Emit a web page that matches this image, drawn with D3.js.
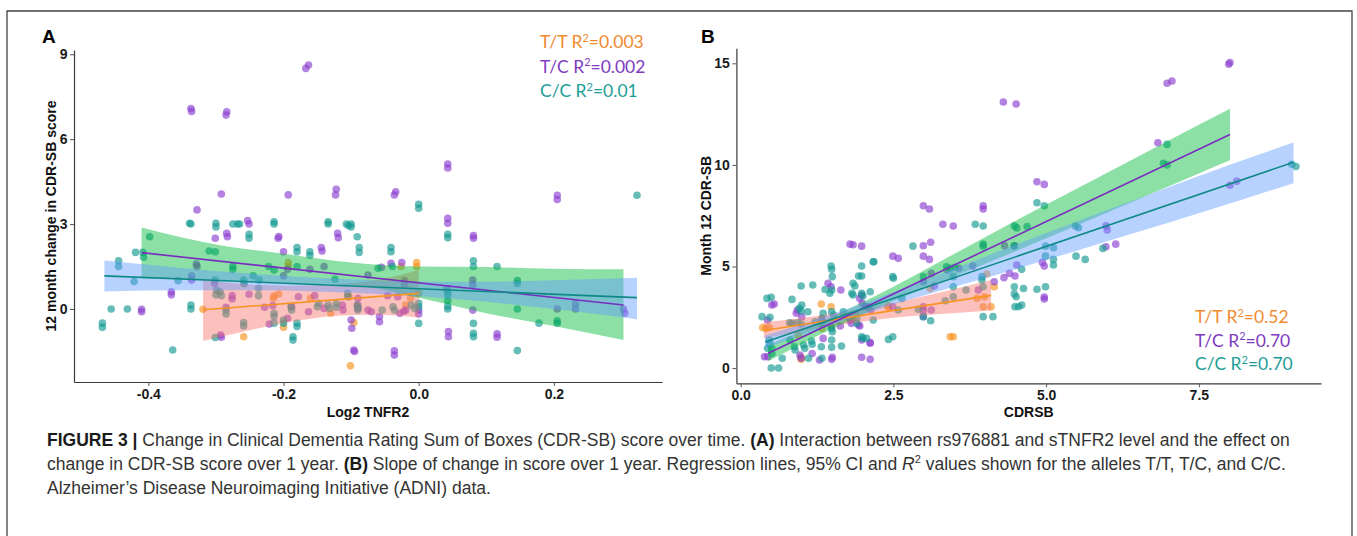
<!DOCTYPE html>
<html>
<head>
<meta charset="utf-8">
<script src="https://cdn.jsdelivr.net/npm/d3@7"></script>
<style>
  body { margin: 0; background: #fff; }
  svg { display: block; }
</style>
</head>
<body>
<div id="fig"></div>
<script>
// ---- data ----
const genotypes = ['T/T', 'T/C', 'C/C']

const r2A = ['0.003', '0.002', '0.01']
const r2B = ['0.52', '0.70', '0.70']

const ticksAx = [-0.4, -0.2, 0.0, 0.2]
const ticksAy = [0, 3, 6, 9]
const ticksBx = [0.0, 2.5, 5.0, 7.5]
const ticksBy = [0, 5, 10, 15]

// panel A : Log2 TNFR2 vs 12 month change in CDR-SB
const ptsA_TT = [[-0.319,-0.01],[-0.259,0.9],[-0.259,-0.98],[-0.215,0.38],[-0.214,0.46],[-0.207,0.53],[-0.2,-0.65],
  [-0.193,1.64],[-0.193,1.5],[-0.16,0.38],[-0.13,-0.15],[-0.103,0.43],[-0.101,-2.01],[-0.096,-0.48],[-0.026,1.5],
  [-0.003,1.64],[-0.003,1.5],[0.0,0.55],[-0.012,0.38],[-0.019,0.14]]
const ptsA_TC = [[-0.167,8.5],[-0.163,8.62],[-0.337,7.08],[-0.336,6.98],[-0.284,6.97],[-0.285,6.85],[0.043,5.12],[0.043,4.98],
  [-0.292,4.06],[-0.193,4.03],[-0.122,4.23],[-0.123,4.03],[-0.034,4.14],[-0.036,4.03],[0.205,4.02],[0.205,3.87],
  [-0.328,3.5],[-0.253,3.12],[-0.251,3.0],[0.043,3.2],[0.043,3.03],[-0.301,2.5],[-0.284,2.67],[-0.283,2.55],
  [-0.208,2.5],[-0.207,2.56],[-0.12,2.67],[-0.119,2.52],[0.081,2.59],[0.081,2.5],[-0.2,2.02],[-0.144,2.17],
  [-0.143,2.05],[-0.329,1.59],[-0.328,1.5],[-0.194,1.4],[-0.14,1.5],[-0.161,1.4],[-0.041,1.61],[-0.025,1.64],
  [-0.055,1.47],[-0.336,1.17],[-0.336,1.02],[-0.2,1.17],[-0.075,1.2],[-0.021,1.0],[-0.021,0.85],[0.08,1.02],
  [0.08,0.85],[-0.302,0.9],[0.042,0.72],[-0.366,0.61],[-0.366,0.5],[-0.276,0.47],[-0.276,0.35],[-0.251,0.52],
  [-0.178,0.43],[-0.154,0.47],[-0.09,0.38],[-0.046,0.47],[-0.031,0.43],[-0.41,-0.01],[-0.41,-0.1],[-0.285,0.06],
  [-0.228,0.06],[-0.216,0.12],[-0.188,0.08],[-0.14,0.02],[-0.113,0.14],[-0.112,-0.04],[-0.09,0.14],[-0.09,0.02],
  [-0.075,-0.04],[-0.07,-0.1],[-0.028,-0.15],[-0.022,-0.08],[-0.019,-0.04],[0.0,-0.04],[0.0,-0.18],[0.08,-0.04],
  [0.205,0.0],[0.232,0.18],[0.232,0.0],[0.303,0.0],[0.305,-0.15],[-0.163,-0.1],[-0.221,-0.53],[-0.194,-0.33],
  [-0.1,-0.39],[-0.099,-0.68],[-0.058,-0.27],[-0.058,-0.45],[-0.293,-0.92],[-0.292,-1.0],[0.044,-0.8],[0.044,-0.98],
  [0.116,-0.88],[0.116,-1.0],[-0.096,-1.45],[-0.095,-1.5],[-0.036,-1.48],[-0.036,-1.63]]
const ptsA_CC = [[0.323,4.02],[0.0,3.7],[0.0,3.56],[-0.339,3.03],[-0.337,3.0],[-0.3,3.03],[-0.3,2.9],[-0.275,3.0],
  [-0.268,3.0],[-0.265,3.0],[-0.214,3.08],[-0.214,3.0],[-0.134,3.08],[-0.134,3.0],[-0.107,3.0],[-0.104,2.95],
  [-0.1,3.0],[-0.1,2.9],[-0.398,2.55],[-0.251,2.64],[-0.251,2.5],[-0.091,2.55],[0.043,2.64],[0.043,2.52],
  [-0.419,2.0],[-0.408,2.0],[-0.407,1.83],[-0.31,2.05],[-0.301,2.02],[-0.18,2.17],[-0.18,2.02],[-0.161,2.02],
  [-0.161,1.9],[-0.088,2.17],[-0.088,2.0],[-0.041,2.17],[-0.041,2.02],[-0.444,1.7],[-0.444,1.5],[-0.275,1.5],
  [-0.275,1.4],[-0.222,1.5],[-0.214,1.38],[-0.18,1.5],[-0.06,1.44],[-0.039,1.5],[0.081,1.7],[0.081,1.5],
  [0.116,1.5],[-0.421,0.97],[-0.356,1.0],[-0.301,1.02],[-0.259,1.02],[-0.258,0.9],[-0.245,1.17],[-0.236,1.02],
  [-0.124,1.05],[0.146,1.0],[0.146,0.9],[-0.237,0.73],[-0.299,0.67],[-0.294,0.61],[-0.3,0.5],[-0.292,0.47],
  [-0.237,0.47],[-0.105,0.55],[-0.105,0.43],[0.043,0.61],[0.043,0.5],[0.043,0.3],[0.043,0.1],[0.043,0.0],
  [-0.455,0.0],[-0.431,0.0],[-0.337,0.14],[-0.337,0.0],[-0.285,-0.04],[-0.285,-0.18],[-0.189,0.08],[-0.188,-0.04],
  [-0.15,0.08],[-0.148,0.2],[-0.134,0.14],[-0.132,0.02],[-0.122,0.2],[-0.122,0.06],[-0.091,0.14],[-0.09,0.06],
  [-0.09,-0.04],[-0.054,-0.04],[-0.038,0.08],[-0.036,-0.04],[-0.011,0.14],[-0.006,0.02],[0.0,0.2],[0.0,0.08],
  [0.146,0.0],[-0.468,-0.5],[-0.468,-0.65],[-0.259,-0.48],[-0.259,-0.6],[-0.214,-0.15],[-0.214,-0.27],[-0.214,-0.5],
  [-0.2,-0.39],[-0.2,-0.5],[-0.18,-0.5],[-0.18,-0.62],[0.0,-0.51],[0.081,-0.51],[0.178,-0.5],[0.205,-0.5],
  [0.205,-0.42],[-0.301,-1.01],[-0.186,-0.98],[-0.186,-1.1],[0.081,-0.86],[0.081,-0.98],[-0.364,-1.45],[0.146,-1.47]]

// fitted lines [x, y] and 95% CI ribbons [x, lower, upper]
const fitA_TT = [[-0.319,-0.03],[0.0,0.55]]
const fitA_TC = [[-0.41,1.99],[0.303,0.14]]
const fitA_CC = [[-0.465,1.17],[0.323,0.4]]
const ciA_TT = [[-0.319,-1.13,1.07],[-0.25,-0.75,0.86],[-0.18,-0.42,0.82],[-0.12,-0.24,0.87],[-0.06,-0.2,1.03],[0.0,-0.3,1.38]]
const ciA_TC = [[-0.41,1.08,2.88],[-0.3,1.03,2.28],[-0.2,0.92,1.95],[-0.1,0.84,1.64],[0.0,0.4,1.5],[0.1,-0.15,1.48],[0.2,-0.6,1.42],[0.303,-1.1,1.4]]
const ciA_CC = [[-0.465,0.62,1.71],[-0.35,0.66,1.45],[-0.25,0.66,1.25],[-0.15,0.62,1.1],[-0.05,0.52,1.0],[0.05,0.36,0.96],[0.15,0.13,0.98],[0.25,-0.14,1.05],[0.323,-0.36,1.1]]

// panel B : baseline CDRSB vs month 12 CDR-SB
const ptsB_TT = [[0.36,2.0],[0.41,1.95],[0.47,2.0],[0.94,1.62],[0.99,0.53],[0.99,0.43],[1.32,3.15],[1.33,1.95],
  [1.48,3.02],[1.83,2.41],[1.88,2.66],[2.41,3.0],[2.42,3.05],[3.1,3.92],[3.43,1.54],[3.48,1.54],[3.87,3.43],
  [3.97,3.02],[3.99,3.51],[4.03,4.63],[4.1,3.02],[4.15,4.0]]
const ptsB_TC = [[7.99,14.96],[8.01,15.04],[6.98,14.02],[7.06,14.13],[4.3,13.1],[4.51,13.0],[6.83,11.09],[4.85,9.17],
  [4.97,9.04],[8.01,9.0],[8.12,9.2],[2.99,7.99],[3.09,7.83],[3.97,7.99],[3.97,7.83],[3.31,7.08],[3.48,6.99],
  [5.98,7.0],[6.0,6.8],[6.14,6.1],[5.98,5.97],[4.48,6.02],[4.32,6.02],[1.79,6.1],[1.84,6.07],[1.98,6.0],
  [2.99,6.02],[3.11,6.19],[2.49,5.51],[2.58,5.4],[2.99,5.51],[3.09,5.35],[4.94,5.2],[4.97,5.02],[4.52,5.07],
  [3.8,5.02],[3.57,4.91],[3.38,4.83],[3.12,4.66],[4.4,4.66],[4.49,4.53],[4.31,4.45],[4.15,4.25],[2.99,4.25],
  [1.43,4.17],[1.48,4.0],[3.17,4.04],[1.64,3.84],[3.89,3.84],[4.97,3.5],[4.97,3.4],[0.51,3.1],[0.55,3.15],
  [1.98,3.6],[1.95,3.43],[1.99,3.19],[2.04,3.02],[2.09,3.02],[2.13,2.86],[2.99,3.02],[2.99,2.82],[2.99,2.53],
  [3.12,2.86],[2.49,3.02],[0.93,2.86],[1.0,2.53],[0.44,2.36],[1.33,2.36],[1.48,2.03],[1.63,2.07],[1.79,2.36],
  [1.81,2.2],[1.93,2.12],[1.95,2.07],[0.91,2.7],[1.35,1.46],[1.98,1.38],[2.12,1.22],[2.12,1.26],[0.39,0.56],
  [0.44,0.56],[0.97,0.64],[0.99,0.48],[1.17,0.72],[1.29,0.4],[1.49,0.43],[1.5,0.53],[1.98,0.53],[2.12,0.43]]
const ptsB_CC = [[9.02,10.03],[9.09,9.92],[6.98,11.01],[6.92,10.08],[6.98,10.0],[4.85,8.14],[4.97,7.99],[3.84,7.08],
  [3.97,6.99],[4.48,7.0],[4.52,6.9],[4.69,6.96],[5.48,6.99],[5.53,6.91],[3.97,6.1],[3.97,6.0],[2.82,6.0],
  [4.48,6.02],[5.93,5.89],[4.99,6.0],[5.12,5.92],[4.99,5.51],[5.12,5.35],[5.12,5.07],[5.49,5.51],[5.64,5.35],
  [2.17,5.23],[2.18,5.23],[1.48,5.02],[1.49,4.86],[1.98,5.02],[3.37,4.99],[3.43,4.91],[3.51,4.96],[4.6,4.86],
  [1.5,4.5],[1.93,4.53],[1.98,4.53],[2.49,4.5],[2.5,4.42],[2.99,4.5],[3.48,4.5],[3.95,4.5],[3.95,4.33],
  [1.84,4.17],[1.87,4.04],[0.99,4.04],[1.18,4.09],[3.48,4.0],[3.97,4.0],[4.48,4.0],[4.63,3.92],[4.85,3.88],
  [4.99,4.0],[1.38,3.87],[1.49,3.84],[1.46,3.68],[3.69,3.84],[1.82,3.68],[1.84,3.6],[1.98,3.68],[2.0,3.55],
  [2.12,3.76],[4.51,3.51],[4.48,3.65],[0.43,3.43],[0.5,3.48],[0.84,3.38],[2.64,3.43],[3.48,3.51],[3.35,3.31],
  [1.0,3.1],[0.96,2.94],[0.99,2.81],[1.1,2.77],[1.35,2.69],[1.49,2.77],[1.52,2.61],[1.68,2.77],[2.58,2.86],
  [2.91,2.89],[4.49,3.02],[4.55,3.02],[4.6,3.1],[0.35,2.53],[0.48,2.5],[1.33,2.45],[1.9,2.45],[1.9,2.2],
  [2.17,2.36],[2.99,2.53],[3.97,2.53],[4.13,2.53],[3.11,2.33],[0.8,2.23],[0.84,2.2],[0.93,2.23],[0.99,2.17],
  [1.22,2.28],[1.33,2.2],[1.49,1.95],[1.5,1.79],[1.98,1.54],[2.0,1.46],[2.06,1.46],[2.42,1.41],[2.49,1.54],
  [0.47,1.38],[0.48,1.18],[0.81,1.38],[1.16,1.33],[1.17,1.17],[1.49,1.38],[1.49,1.02],[1.32,1.05],[1.03,1.13],
  [1.05,0.97],[0.88,1.05],[0.89,0.89],[0.44,0.97],[0.51,0.97],[0.51,0.72],[1.65,1.08],[0.68,0.48],[1.11,0.48],
  [1.33,0.48],[0.5,0.0],[0.62,0.0]]

const fitB_TT = [[0.38,1.85],[4.1,3.58]]
const fitB_TC = [[0.45,0.73],[8.01,11.5]]
const fitB_CC = [[0.4,1.28],[9.05,10.13]]
const ciB_TT = [[0.38,1.45,2.25],[1.0,1.81,2.47],[1.6,2.12,2.72],[2.2,2.37,3.03],[2.8,2.56,3.4],[3.4,2.68,3.82],[4.1,2.83,4.33]]
const ciB_TC = [[0.45,0.33,1.13],[1.5,1.93,2.53],[2.5,3.3,4.0],[3.5,4.52,5.63],[4.5,5.75,7.25],[5.5,7.02,8.83],[6.5,8.3,10.4],[7.5,9.58,11.98],[8.01,10.23,12.77]]
const ciB_CC = [[0.4,0.96,1.6],[1.5,2.15,2.65],[2.5,3.13,3.73],[3.5,4.0,4.9],[4.5,4.87,6.07],[5.5,5.78,7.22],[6.5,6.7,8.34],[7.5,7.62,9.46],[9.05,9.1,11.1]]

// ---- styles ----
const pointColour = { 'T/T': '#f7931e', 'T/C': '#8c3fd0', 'C/C': '#149a92' }
const lineColour = { 'T/T': '#f7931e', 'T/C': '#7a2cc0', 'C/C': '#0d8a85' }
const ribbonColour = { 'T/T': '#f8766d', 'T/C': '#00ba38', 'C/C': '#619cff' }
const legendColour = { 'T/T': '#f28a30', 'T/C': '#7e3bbf', 'C/C': '#1e9e98' }
const axisFont = '"Liberation Sans", Arial, sans-serif'

const svg = d3.select('#fig').append('svg')
    .attr('width', 1357)
    .attr('height', 536)

svg.append('rect').attr('width', 1357).attr('height', 536).attr('fill', '#fff')

// figure frame
svg.append('path')
    .attr('d', 'M7,540 V11 H1352 V540')
    .attr('fill', 'none')
    .attr('stroke', '#444')
    .attr('stroke-width', 1.3)

const drawPanel = (p) => {
    const g = svg.append('g')

    // points under the ribbons
    genotypes.forEach((k) => {
        g.append('g').selectAll('circle')
            .data(p.points[k])
            .enter().append('circle')
            .attr('cx', d => p.x(d[0]))
            .attr('cy', d => p.y(d[1]))
            .attr('r', 3.8)
            .attr('fill', pointColour[k])
            .attr('fill-opacity', 0.65)
    })

    const area = d3.area()
        .x(d => p.x(d[0]))
        .y0(d => p.y(d[1]))
        .y1(d => p.y(d[2]))
        .curve(d3.curveMonotoneX)

    genotypes.forEach((k) => {
        g.append('path')
            .datum(p.ci[k])
            .attr('d', area)
            .attr('fill', ribbonColour[k])
            .attr('fill-opacity', 0.45)
    })

    const line = d3.line().x(d => p.x(d[0])).y(d => p.y(d[1]))
    genotypes.forEach((k) => {
        g.append('path')
            .datum(p.fit[k])
            .attr('d', line)
            .attr('fill', 'none')
            .attr('stroke', lineColour[k])
            .attr('stroke-width', 1.6)
    })

    // axes
    const xAxis = g.append('g')
        .attr('transform', 'translate(0,' + p.y.range()[0] + ')')
        .call(d3.axisBottom(p.x).tickValues(p.xTicks).tickFormat(d => d.toFixed(1)).tickSize(4).tickPadding(3).tickSizeOuter(0))
    const yAxis = g.append('g')
        .attr('transform', 'translate(' + p.x.range()[0] + ',0)')
        .call(d3.axisLeft(p.y).tickValues(p.yTicks).tickFormat(d3.format('d')).tickSize(4).tickPadding(2.5).tickSizeOuter(0))

    ;[xAxis, yAxis].forEach((a) => {
        a.select('.domain').attr('stroke', '#3a3a3a').attr('stroke-width', 1.2)
        a.selectAll('.tick line').attr('stroke', '#555').attr('stroke-width', 1)
        a.selectAll('.tick text')
            .attr('fill', '#1a1a1a')
            .style('font-family', axisFont)
            .style('font-weight', 'bold')
            .style('font-size', '14px')
    })

    // titles
    const xr = p.x.range(), yr = p.y.range()
    g.append('text')
        .attr('x', (xr[0] + xr[1]) / 2)
        .attr('y', 417)
        .attr('text-anchor', 'middle')
        .style('font', 'bold 14px ' + axisFont)
        .attr('fill', '#111')
        .text(p.xTitle)
    g.append('text')
        .attr('transform', 'translate(' + p.yTitleX + ',' + (yr[0] + yr[1]) / 2 + ') rotate(-90)')
        .attr('text-anchor', 'middle')
        .style('font', 'bold 14px ' + axisFont)
        .attr('fill', '#111')
        .text(p.yTitle)

    // panel letter
    g.append('text')
        .attr('x', p.letterX)
        .attr('y', 43)
        .style('font', 'bold 19px ' + axisFont)
        .attr('fill', '#000')
        .text(p.letter)

    // R2 legend
    genotypes.forEach((k, i) => {
        const t = g.append('text')
            .attr('x', p.legendX)
            .attr('y', p.legendY + i * p.legendStep)
            .style('font-family', 'Lato, "Open Sans", sans-serif')
            .style('font-size', '17.5px')
            .attr('fill', legendColour[k])
        t.append('tspan').text(k + ' R')
        t.append('tspan').attr('dy', -6.5).style('font-size', '11px').text('2')
        t.append('tspan').attr('dy', 6.5).text('=' + p.r2[i])
    })
}

drawPanel({
    x: d3.scaleLinear().domain([-0.51, 0.36]).range([74, 662]),
    y: d3.scaleLinear().domain([-2.58, 9.15]).range([382, 50]),
    xTicks: ticksAx, yTicks: ticksAy,
    points: { 'T/T': ptsA_TT, 'T/C': ptsA_TC, 'C/C': ptsA_CC },
    fit: { 'T/T': fitA_TT, 'T/C': fitA_TC, 'C/C': fitA_CC },
    ci: { 'T/T': ciA_TT, 'T/C': ciA_TC, 'C/C': ciA_CC },
    xTitle: 'Log2 TNFR2', yTitle: '12 month change in CDR-SB score', yTitleX: 56,
    letter: 'A', letterX: 42,
    r2: r2A, legendX: 540, legendY: 48, legendStep: 24.5
})

drawPanel({
    x: d3.scaleLinear().domain([-0.07, 9.5]).range([736.4, 1321]),
    y: d3.scaleLinear().domain([-0.75, 15.74]).range([383.3, 48.3]),
    xTicks: ticksBx, yTicks: ticksBy,
    points: { 'T/T': ptsB_TT, 'T/C': ptsB_TC, 'C/C': ptsB_CC },
    fit: { 'T/T': fitB_TT, 'T/C': fitB_TC, 'C/C': fitB_CC },
    ci: { 'T/T': ciB_TT, 'T/C': ciB_TC, 'C/C': ciB_CC },
    xTitle: 'CDRSB', yTitle: 'Month 12 CDR-SB', yTitleX: 711,
    letter: 'B', letterX: 701,
    r2: r2B, legendX: 1195, legendY: 323, legendStep: 23.5
})

// ---- caption ----
const capFont = '"Liberation Sans", Arial, sans-serif'
const caption = [
    [['FIGURE 3 | ', 'b'], ['Change in Clinical Dementia Rating Sum of Boxes (CDR-SB) score over time. '], ['(A)', 'b'],
     [' Interaction between rs976881 and sTNFR2 level and the effect on']],
    [['change in CDR-SB score over 1 year. '], ['(B)', 'b'], [' Slope of change in score over 1 year. Regression lines, 95% CI and '],
     ['R', 'i'], ['2', 'sup'], [' values shown for the alleles T/T, T/C, and C/C.']],
    [['Alzheimer\u2019s Disease Neuroimaging Initiative (ADNI) data.']]
]
const capY = [446, 470, 494]
caption.forEach((parts, i) => {
    const t = svg.append('text')
        .attr('x', 47)
        .attr('y', capY[i])
        .style('font-family', capFont)
        .style('font-size', '17.5px')
        .attr('fill', '#333')
    let raised = false
    parts.forEach((s) => {
        const ts = t.append('tspan').text(s[0])
        if (s[1] === 'b') ts.style('font-weight', 'bold').attr('fill', '#1a1a1a')
        if (s[1] === 'i') ts.style('font-style', 'italic')
        if (s[1] === 'sup') {
            ts.attr('dy', -7).style('font-size', '11px')
            raised = true
        } else if (raised) {
            ts.attr('dy', 7)
            raised = false
        }
    })
})
</script>
</body>
</html>
